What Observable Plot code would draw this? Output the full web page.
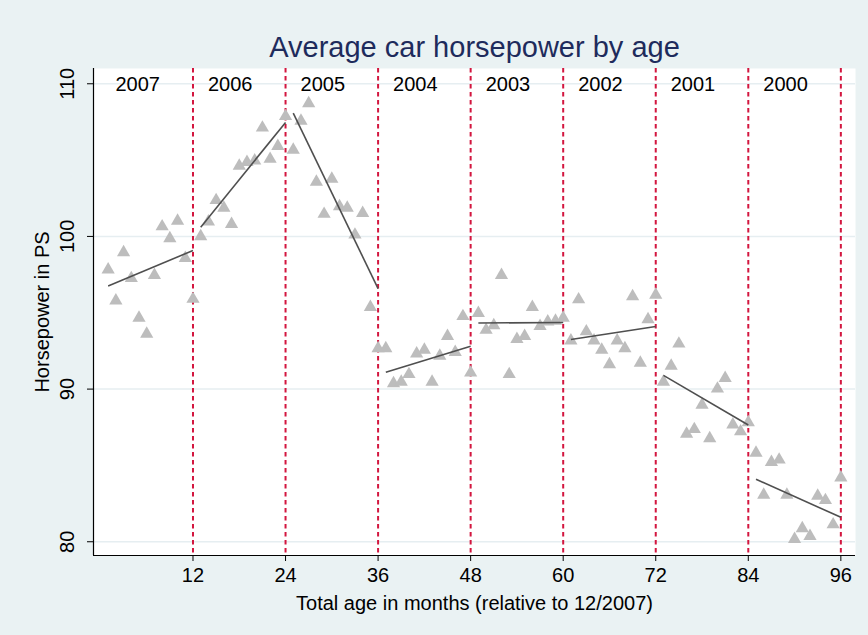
<!DOCTYPE html>
<html>
<head>
<meta charset="utf-8">
<script src="https://cdn.jsdelivr.net/npm/d3@7"></script>
<script src="https://cdn.jsdelivr.net/npm/@observablehq/plot@0.6"></script>
<style>
  html, body { margin: 0; padding: 0; background: #EAF2F3; }
  #chart { width: 868px; height: 635px; }
</style>
</head>
<body>
<div id="chart"></div>
<script>
// ---- Data ----
const titleText = "Average car horsepower by age";
const xTitle = "Total age in months (relative to 12/2007)";
const yTitle = "Horsepower in PS";

const months = [
  1, 2, 3, 4, 5, 6, 7, 8, 9, 10, 11, 12,
  13, 14, 15, 16, 17, 18, 19, 20, 21, 22, 23, 24,
  25, 26, 27, 28, 29, 30, 31, 32, 33, 34, 35, 36,
  37, 38, 39, 40, 41, 42, 43, 44, 45, 46, 47, 48,
  49, 50, 51, 52, 53, 54, 55, 56, 57, 58, 59, 60,
  61, 62, 63, 64, 65, 66, 67, 68, 69, 70, 71, 72,
  73, 74, 75, 76, 77, 78, 79, 80, 81, 82, 83, 84,
  85, 86, 87, 88, 89, 90, 91, 92, 93, 94, 95, 96
];
const horsepower = [
  97.95, 95.93, 99.08, 97.39, 94.79, 93.75, 97.6, 100.78, 100.0, 101.15, 98.71, 96.03,
  100.13, 101.1, 102.5, 102.0, 100.94, 104.75, 105.0, 105.1, 107.25, 105.2, 106.05, 108.0,
  105.8, 107.7, 108.85, 103.7, 101.6, 103.9, 102.1, 102.0, 100.24, 101.65, 95.5, 92.8,
  92.8, 90.5, 90.6, 91.1, 92.45, 92.7, 90.6, 92.3, 93.6, 92.55, 94.9, 91.2,
  95.1, 94.0, 94.3, 97.6, 91.1, 93.4, 93.6, 95.5, 94.25, 94.55, 94.6, 94.8,
  93.3, 96.0, 93.9, 93.3, 92.7, 91.75, 93.3, 92.8, 96.2, 91.85, 94.7, 96.3,
  90.6, 91.65, 93.1, 87.2, 87.5, 89.1, 86.9, 90.15, 90.85, 87.8, 87.35, 87.95,
  85.95, 83.2, 85.35, 85.5, 83.2, 80.3, 81.0, 80.5, 83.14, 82.85, 81.26, 84.33
];

// model years and their month ranges
const years      = ["2007", "2006", "2005", "2004", "2003", "2002", "2001", "2000"];
const segStart   = [0, 12, 24, 36, 48, 60, 72, 84];
const segEnd     = [12, 24, 36, 48, 60, 72, 84, 96];
const fitFrom    = [1, 13, 25, 37, 49, 61, 73, 85];
const fitTo      = [12, 24, 36, 48, 60, 72, 84, 96];
const fitStartHP = [96.75, 100.6, 108.08, 91.1, 94.33, 93.25, 90.9, 84.1];
const fitEndHP   = [99.08, 107.47, 96.58, 92.8, 94.36, 94.1, 87.65, 81.6];

const xTicks = [12, 24, 36, 48, 60, 72, 84, 96];
const yTicks = [80, 90, 100, 110];
const xDomain = [-0.9, 97.9];
const yDomain = [79.1, 111.0];

// ---- Tables built from the arrays ----
const points = months.map((m, i) => ({month: m, hp: horsepower[i]}));
const fits = years.map((yr, i) => ({
  year: yr, x1: fitFrom[i], x2: fitTo[i], y1: fitStartHP[i], y2: fitEndHP[i]
}));
const yearLabels = years.map((yr, i) => ({year: yr, start: segStart[i]}));

const font = "'Liberation Sans', Arial, Helvetica, sans-serif";

const chart = Plot.plot({
  width: 868,
  height: 635,
  marginLeft: 93,
  marginRight: 13,
  marginTop: 68,
  marginBottom: 80,
  style: {background: "#EAF2F3", fontFamily: font, color: "black", overflow: "visible"},
  x: {domain: xDomain},
  y: {domain: yDomain},
  marks: [
    Plot.frame({fill: "white", stroke: null}),
    Plot.ruleY(yTicks, {stroke: "#E6EEF1", strokeWidth: 1.5}),
    Plot.ruleX(segEnd, {stroke: "#D3163F", strokeWidth: 2, strokeDasharray: "4.5,3.5"}),
    Plot.dot(points, {x: "month", y: "hp", symbol: "triangle", r: 4.9, fill: "#BDBDBD", stroke: null, dy: 2}),
    Plot.link(fits, {x1: "x1", y1: "y1", x2: "x2", y2: "y2", stroke: "#4F4F4F", strokeWidth: 1.6}),
    Plot.text(yearLabels, {x: "start", text: "year", frameAnchor: "top", dy: 16, dx: 15, textAnchor: "start", lineAnchor: "middle", fontSize: 20, fill: "black"}),
    // axis lines
    Plot.ruleX([xDomain[0]], {stroke: "black", strokeWidth: 1.2}),
    Plot.ruleY([yDomain[0]], {stroke: "black", strokeWidth: 1.2}),
    // axes
    Plot.axisX({ticks: xTicks, tickSize: 6, tickPadding: 6, fontSize: 20, label: null, stroke: "black", fill: "black"}),
    Plot.axisY({ticks: yTicks, tickSize: 6, tickFormat: () => "", label: null, stroke: "black"}),
    Plot.text(yTicks, {y: d => d, text: d => String(d), frameAnchor: "left", dx: -26, rotate: -90, textAnchor: "middle", lineAnchor: "middle", fontSize: 20, fill: "black"}),
    // titles
    Plot.text([yTitle], {frameAnchor: "left", dx: -51, rotate: -90, textAnchor: "middle", lineAnchor: "middle", fontSize: 20, fill: "black"}),
    Plot.text([xTitle], {frameAnchor: "bottom", dy: 48, textAnchor: "middle", lineAnchor: "middle", fontSize: 20, fill: "black"}),
    Plot.text([titleText], {frameAnchor: "top", dy: -21, textAnchor: "middle", lineAnchor: "middle", fontSize: 29, fill: "#1E2B5C"})
  ]
});

document.getElementById("chart").appendChild(chart);
</script>
</body>
</html>
